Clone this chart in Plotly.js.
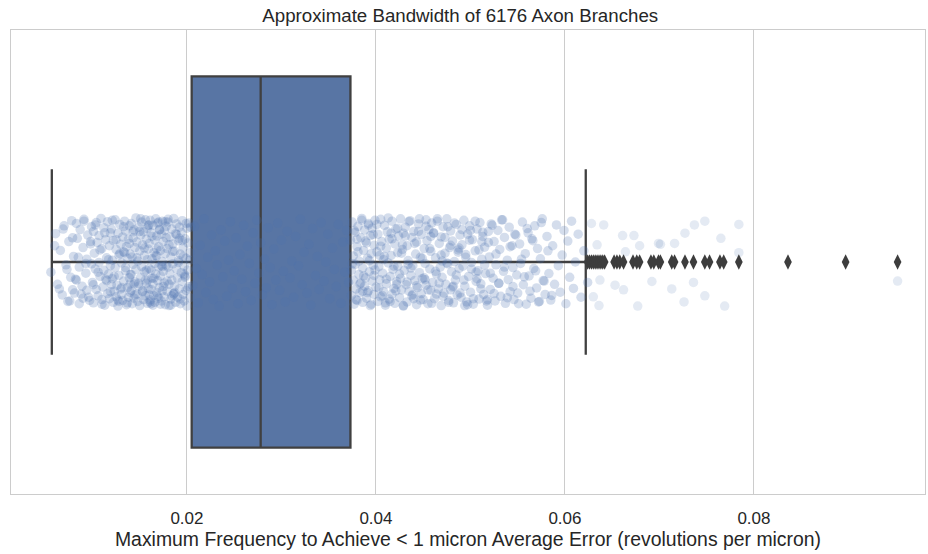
<!DOCTYPE html>
<html>
<head>
<meta charset="utf-8">
<script src="https://cdn.plot.ly/plotly-3.0.1.min.js"></script>
<style>html,body{margin:0;padding:0;background:#fff;}#chart{width:928px;height:554px;}</style>
</head>
<body>
<div id="chart"></div>
<script>
// ---- Box summary ----
const q1Val = [0.0205];
const medianVal = [0.0278];
const q3Val = [0.0373];
const lowWhisker = [0.0057];
const highWhisker = [0.0622];

// ---- Outliers (diamonds) ----
const outlierX = [0.0624,0.0626,0.0628,0.0630,0.0632,0.0634,0.0636,0.0638,0.0640,0.0642,
  0.0652,0.0655,0.0658,0.0662,0.0672,0.0676,0.0679,0.0691,0.0694,0.0699,0.0701,
  0.0713,0.0716,0.0727,0.0736,0.0748,0.0753,0.0764,0.0768,0.0784,0.0836,0.0897,0.0952];

// ---- Strip points: values and jitter offsets ----
const leftX = [0.0056,0.0061,0.0063,0.0066,0.0068,0.0070,0.0072,0.0074,0.0075,0.0077,0.0078,0.0079,
0.0080,0.0081,0.0083,0.0083,0.0084,0.0086,0.0086,0.0087,0.0089,0.0090,0.0090,0.0091,0.0093,0.0094,0.0094,0.0095,0.0097,0.0098,0.0099,0.0099,
0.0100,0.0101,0.0101,0.0102,0.0103,0.0104,0.0104,0.0105,0.0106,0.0107,0.0107,0.0108,0.0109,0.0110,0.0110,0.0111,0.0112,0.0112,0.0113,0.0114,0.0114,0.0115,0.0116,0.0116,0.0117,0.0118,0.0118,0.0119,0.0119,0.0120,
0.0120,0.0121,0.0121,0.0122,0.0122,0.0123,0.0124,0.0124,0.0125,0.0125,0.0126,0.0127,0.0127,0.0128,0.0128,0.0129,0.0130,0.0130,0.0131,0.0131,0.0132,0.0132,0.0133,0.0133,0.0134,0.0135,0.0135,0.0136,0.0136,0.0137,0.0137,0.0138,0.0138,0.0139,0.0139,0.0140,0.0140,0.0140,
0.0140,0.0141,0.0141,0.0142,0.0142,0.0143,0.0143,0.0144,0.0144,0.0145,0.0145,0.0146,0.0146,0.0147,0.0147,0.0148,0.0148,0.0149,0.0149,0.0150,0.0150,0.0151,0.0151,0.0152,0.0152,0.0153,0.0153,0.0154,0.0154,0.0155,0.0155,0.0156,0.0156,0.0157,0.0157,0.0158,0.0158,0.0158,0.0159,0.0159,0.0159,0.0160,0.0160,0.0160,
0.0160,0.0161,0.0161,0.0162,0.0162,0.0162,0.0163,0.0163,0.0164,0.0164,0.0164,0.0165,0.0165,0.0166,0.0166,0.0166,0.0167,0.0167,0.0168,0.0168,0.0168,0.0169,0.0169,0.0170,0.0170,0.0170,0.0171,0.0171,0.0172,0.0172,0.0172,0.0173,0.0173,0.0174,0.0174,0.0174,0.0175,0.0175,0.0176,0.0176,0.0176,0.0177,0.0177,0.0178,0.0178,0.0178,
0.0179,0.0179,0.0180,0.0180,0.0181,0.0181,0.0182,0.0182,0.0183,0.0183,0.0184,0.0184,0.0185,0.0185,0.0186,0.0186,0.0187,0.0187,0.0188,0.0188,0.0189,0.0189,0.0190,0.0190,0.0191,0.0191,0.0192,0.0192,0.0193,0.0193,0.0194,0.0194,0.0195,0.0195,0.0196,0.0196,0.0197,0.0197,0.0198,0.0198,0.0199,0.0199,0.0200,0.0200,0.0201,0.0201,0.0202,0.0202,0.0203,0.0203];
const leftY = [0.022,-0.061,0.048,-0.025,0.071,-0.078,0.006,0.085,-0.044,0.033,-0.089,0.060,
-0.012,0.067,-0.083,0.039,-0.051,0.090,0.011,-0.070,0.052,-0.031,0.078,-0.092,0.024,-0.006,0.061,-0.058,0.083,-0.039,0.004,-0.076,
0.044,-0.066,0.088,-0.019,0.015,-0.085,0.059,-0.042,0.073,0.001,-0.057,0.031,-0.094,0.081,-0.029,0.054,-0.074,0.018,0.093,-0.048,0.037,-0.009,0.068,-0.087,0.026,-0.035,0.079,-0.063,0.008,0.049,
-0.071,0.036,-0.004,0.087,-0.046,0.063,-0.091,0.012,0.075,-0.027,0.050,-0.062,0.095,-0.015,0.029,-0.081,0.058,-0.038,0.002,0.070,-0.054,0.083,-0.022,0.041,-0.088,0.019,-0.067,0.092,-0.033,0.055,-0.008,0.076,-0.049,0.034,-0.078,0.065,-0.017,0.047,
0.027,-0.083,0.061,-0.011,0.090,-0.052,0.005,-0.069,0.078,-0.031,0.043,-0.095,0.016,0.069,-0.043,0.085,-0.002,-0.075,0.052,-0.024,0.094,-0.058,0.033,-0.086,0.010,0.064,-0.037,0.081,-0.065,0.021,-0.014,0.073,-0.091,0.046,-0.049,0.089,-0.005,-0.072,0.038,0.057,-0.028,-0.080,0.014,0.071,
-0.040,0.082,-0.090,0.018,0.059,-0.063,0.035,-0.007,0.093,-0.079,0.047,-0.020,0.072,-0.047,0.003,0.087,-0.093,0.026,-0.056,0.066,-0.013,0.040,-0.084,0.078,-0.033,0.011,0.055,-0.070,0.091,-0.025,0.030,-0.060,0.084,-0.001,-0.088,0.062,-0.044,0.020,0.075,-0.068,0.045,-0.018,0.092,-0.052,0.007,-0.077,
0.063,-0.029,0.011,-0.086,0.048,0.094,-0.054,0.025,-0.011,0.080,-0.071,0.039,-0.039,0.004,0.068,-0.094,0.052,-0.023,0.087,-0.061,0.015,-0.082,0.034,0.076,-0.046,-0.003,0.058,-0.075,0.090,-0.017,0.023,-0.064,0.042,-0.089,0.070,-0.031,0.009,0.084,-0.050,0.030,-0.008,0.061,-0.073,0.095,-0.041,0.017,-0.084,0.053,-0.020,0.077];

const leftX2 = [0.0060,0.0065,0.0069,0.0073,0.0076,0.0079,0.0082,0.0085,0.0088,0.0091,
0.0093,0.0096,0.0098,0.0101,0.0103,0.0106,0.0108,0.0110,0.0113,0.0115,
0.0117,0.0119,0.0121,0.0123,0.0125,0.0127,0.0129,0.0131,0.0133,0.0135,
0.0137,0.0139,0.0141,0.0143,0.0145,0.0147,0.0149,0.0151,0.0153,0.0155,
0.0157,0.0159,0.0161,0.0163,0.0165,0.0167,0.0169,0.0171,0.0173,0.0175,
0.0177,0.0179,0.0181,0.0183,0.0185,0.0187,0.0189,0.0191,0.0193,0.0195,
0.0197,0.0199,0.0201,0.0203,0.0150,0.0156,0.0162,0.0168,0.0174,0.0180,
0.0186,0.0192,0.0198,0.0204,0.0128,0.0134,0.0144,0.0170,0.0184,0.0196];
const leftY2 = [-0.035,0.058,-0.071,0.016,0.084,-0.052,0.037,-0.010,0.069,-0.088,
0.003,0.076,-0.044,0.049,-0.080,0.022,-0.026,0.091,-0.063,0.040,
-0.005,0.064,-0.090,0.031,-0.048,0.082,-0.018,0.055,-0.076,0.012,
0.088,-0.040,0.027,-0.065,0.071,-0.009,0.046,-0.093,0.062,-0.030,
0.018,-0.079,0.086,-0.055,0.035,-0.014,0.074,-0.069,0.008,0.053,
-0.087,0.041,-0.037,0.093,-0.023,0.066,-0.059,0.001,0.080,-0.046,
0.026,-0.083,0.057,-0.004,-0.066,0.039,0.090,-0.028,0.010,-0.092,
0.069,-0.051,0.033,-0.075,0.085,-0.020,0.047,-0.086,0.073,-0.012];

const boxX = [0.0206,0.0208,0.0210,0.0212,0.0214,0.0216,0.0218,0.0220,0.0222,0.0224,
0.0226,0.0228,0.0230,0.0232,0.0234,0.0236,0.0238,0.0240,0.0242,0.0244,
0.0246,0.0248,0.0250,0.0252,0.0254,0.0256,0.0258,0.0260,0.0262,0.0264,
0.0266,0.0268,0.0270,0.0272,0.0274,0.0276,0.0278,0.0280,0.0282,0.0284,
0.0286,0.0288,0.0290,0.0292,0.0294,0.0296,0.0298,0.0300,0.0302,0.0304,
0.0306,0.0309,0.0311,0.0313,0.0315,0.0318,0.0320,0.0322,0.0324,0.0327,
0.0329,0.0331,0.0333,0.0336,0.0338,0.0340,0.0342,0.0345,0.0347,0.0349,
0.0351,0.0354,0.0356,0.0358,0.0360,0.0363,0.0365,0.0367,0.0369,0.0371];
const boxY = [0.051,-0.077,0.014,0.088,-0.036,0.027,-0.093,0.066,-0.010,0.043,
-0.058,0.081,-0.024,0.006,0.095,-0.069,0.032,-0.045,0.074,-0.004,
-0.087,0.057,0.019,-0.052,0.090,-0.016,0.037,-0.079,0.064,-0.034,
0.003,0.083,-0.063,0.046,-0.090,0.024,-0.041,0.071,-0.006,0.056,
-0.074,0.012,0.092,-0.028,0.039,-0.084,0.061,-0.047,0.020,0.086,
-0.066,0.034,-0.002,0.076,-0.055,0.008,-0.092,0.049,-0.021,0.067,
-0.038,0.093,-0.072,0.029,-0.012,0.059,-0.085,0.041,0.000,-0.060,
0.079,-0.030,0.016,0.053,-0.081,0.089,-0.043,0.022,-0.068,0.044];

const rightX = [0.0373,0.0374,0.0374,0.0375,0.0376,0.0376,0.0377,0.0378,0.0378,0.0379,0.0380,0.0380,0.0381,0.0382,0.0382,0.0383,0.0384,0.0384,0.0385,0.0386,0.0386,0.0387,0.0388,0.0388,0.0389,0.0390,0.0390,0.0391,0.0392,0.0392,0.0393,0.0394,0.0394,0.0395,0.0396,0.0396,0.0397,0.0398,0.0398,0.0399,
0.0400,0.0401,0.0402,0.0402,0.0403,0.0404,0.0405,0.0405,0.0406,0.0407,0.0408,0.0408,0.0409,0.0410,0.0411,0.0411,0.0412,0.0413,0.0414,0.0414,0.0415,0.0416,0.0417,0.0417,0.0418,0.0419,0.0420,0.0420,0.0421,0.0422,0.0423,0.0423,0.0424,0.0425,0.0426,0.0426,0.0427,0.0428,0.0429,0.0429,
0.0430,0.0431,0.0432,0.0433,0.0433,0.0434,0.0435,0.0436,0.0437,0.0438,0.0438,0.0439,0.0440,0.0441,0.0442,0.0443,0.0443,0.0444,0.0445,0.0446,0.0447,0.0448,0.0448,0.0449,0.0450,0.0451,0.0452,0.0453,0.0453,0.0454,0.0455,0.0456,0.0457,0.0458,0.0458,0.0459,
0.0460,0.0461,0.0462,0.0463,0.0464,0.0465,0.0466,0.0467,0.0468,0.0469,0.0469,0.0470,0.0471,0.0472,0.0473,0.0474,0.0475,0.0476,0.0477,0.0478,0.0479,0.0479,0.0480,0.0481,0.0482,0.0483,0.0484,0.0485,0.0486,0.0487,0.0488,0.0489,
0.0490,0.0491,0.0492,0.0493,0.0494,0.0495,0.0496,0.0497,0.0498,0.0499,0.0500,0.0501,0.0502,0.0503,0.0505,0.0506,0.0507,0.0508,0.0509,0.0510,0.0511,0.0512,0.0513,0.0514,0.0515,0.0516,0.0518,0.0519,
0.0520,0.0521,0.0522,0.0524,0.0525,0.0526,0.0527,0.0529,0.0530,0.0531,0.0532,0.0534,0.0535,0.0536,0.0537,0.0539,0.0540,0.0541,0.0542,0.0544,0.0545,0.0546,0.0547,0.0549,
0.0550,0.0552,0.0553,0.0555,0.0556,0.0558,0.0559,0.0561,0.0562,0.0564,0.0565,0.0567,0.0568,0.0570,0.0571,0.0573,0.0574,0.0576,0.0577,0.0579,
0.0581,0.0583,0.0585,0.0587,0.0589,0.0591,0.0593,0.0595,0.0597,0.0599,0.0601,0.0603,0.0605,0.0607,0.0609,0.0611,0.0614,0.0617,0.0620,0.0624];
const rightY = [-0.047,0.072,0.018,-0.086,0.039,-0.013,0.091,-0.064,0.005,0.058,-0.033,0.083,-0.077,0.027,-0.002,0.066,-0.052,0.045,-0.094,0.013,0.087,-0.025,0.052,-0.069,0.034,-0.041,0.078,-0.008,-0.083,0.062,0.021,-0.057,0.094,-0.018,0.041,-0.073,0.007,0.070,-0.036,-0.090,
0.054,-0.022,0.085,-0.060,0.010,0.038,-0.092,0.075,-0.044,0.024,-0.005,0.064,-0.079,0.093,-0.030,0.047,-0.065,0.002,0.080,-0.049,0.031,-0.014,0.069,-0.088,0.016,0.057,-0.039,0.089,-0.071,0.042,-0.020,0.009,-0.056,0.077,-0.093,0.035,0.060,-0.027,0.095,-0.062,
0.018,-0.075,0.049,-0.035,0.086,-0.003,0.063,-0.089,0.029,-0.053,0.073,0.008,-0.066,0.040,-0.017,0.092,-0.043,0.055,-0.082,0.023,-0.010,0.068,-0.059,0.036,0.081,-0.029,0.003,-0.091,0.050,-0.046,0.090,-0.070,0.015,0.061,-0.023,-0.084,
0.044,-0.063,0.079,-0.009,0.026,-0.088,0.058,-0.040,0.011,0.094,-0.054,0.033,-0.076,0.067,-0.019,0.048,-0.093,0.004,0.083,-0.031,0.060,-0.067,0.021,-0.045,0.088,-0.001,0.039,-0.081,0.071,-0.026,0.014,-0.058,
0.076,-0.037,0.009,-0.090,0.052,-0.016,0.086,-0.060,0.031,-0.078,0.065,0.001,-0.048,0.091,-0.024,0.042,-0.071,0.019,0.080,-0.085,0.047,-0.006,-0.055,0.070,-0.032,0.025,0.093,-0.066,
-0.011,0.059,-0.082,0.035,-0.044,0.084,0.006,-0.068,0.046,-0.027,0.074,-0.091,0.020,-0.053,0.089,-0.004,0.038,-0.075,0.064,-0.035,0.012,0.081,-0.060,0.028,
0.067,-0.039,0.003,-0.086,0.049,-0.018,0.091,-0.063,0.030,0.078,-0.050,0.014,-0.078,0.056,-0.029,0.085,-0.007,-0.093,0.040,0.070,
-0.055,0.025,0.082,-0.035,0.048,-0.080,0.008,0.065,-0.015,-0.068,0.090,-0.045,0.033,-0.088,0.057,0.000,-0.060,0.076,-0.024,0.044];

const rightX2 = [0.0375,0.0377,0.0379,0.0381,0.0383,0.0385,0.0387,0.0389,0.0391,0.0393,0.0395,0.0397,
0.0399,0.0401,0.0403,0.0405,0.0407,0.0409,0.0411,0.0413,0.0415,0.0417,0.0419,0.0421,
0.0423,0.0425,0.0427,0.0429,0.0431,0.0433,0.0435,0.0437,0.0439,0.0441,0.0443,0.0445,
0.0447,0.0449,0.0451,0.0453,0.0455,0.0457,0.0459,0.0461,0.0463,0.0465,0.0467,0.0469,
0.0471,0.0473,0.0475,0.0477,0.0479,0.0481,0.0483,0.0485,0.0487,0.0489,0.0491,0.0493,
0.0495,0.0497,0.0499,0.0501,0.0503,0.0505,0.0507,0.0509,0.0511,0.0513,0.0515,0.0517,
0.0519,0.0521,0.0523,0.0525,0.0527,0.0530,0.0533,0.0536,0.0539,0.0542,0.0545,0.0548,
0.0551,0.0554,0.0557,0.0560,0.0563,0.0566,0.0569,0.0572,0.0575,0.0578,0.0582,0.0586,
0.0380,0.0386,0.0392,0.0398,0.0404,0.0410,0.0416,0.0422,0.0428,0.0434,0.0440,0.0446,
0.0452,0.0458,0.0464,0.0470,0.0476,0.0482,0.0488,0.0494,0.0500,0.0506,0.0512,0.0518];
const rightY2 = [0.004,-0.068,0.081,-0.022,0.047,-0.090,0.030,-0.045,0.066,-0.003,0.091,-0.059,
0.017,-0.081,0.056,-0.034,0.073,-0.012,0.037,-0.095,0.085,-0.050,0.009,0.062,
-0.073,0.026,-0.019,0.094,-0.056,0.043,-0.087,0.013,0.070,-0.040,0.051,-0.066,
0.082,-0.008,0.034,-0.077,0.060,-0.029,0.089,-0.062,0.020,-0.093,0.045,-0.015,
0.074,-0.053,0.002,0.087,-0.036,0.054,-0.084,0.028,-0.021,0.067,-0.070,0.039,
-0.010,0.092,-0.047,0.015,0.079,-0.088,0.036,-0.026,0.058,-0.064,0.006,0.084,
-0.042,0.024,-0.079,0.068,-0.017,0.046,-0.091,0.011,0.077,-0.033,0.053,-0.058,
0.090,-0.006,0.032,-0.072,0.063,-0.046,0.019,0.086,-0.085,0.041,-0.024,0.072,
-0.049,0.063,-0.080,0.029,-0.014,0.088,-0.062,0.048,-0.037,0.005,0.079,-0.093,
0.038,-0.055,0.069,-0.002,-0.076,0.052,-0.030,0.094,-0.068,0.022,-0.044,0.081];

const tailX = [0.0628,0.0641,0.0634,0.0661,0.0673,0.0679,0.0699,0.0701,0.0716,0.0727,0.0737,0.0748,0.0765,0.0784,0.0784,0.0664,
  0.0653,0.0662,0.0692,0.0713,0.0736,0.0748,0.0726,0.0677,0.0769,0.0636,0.0630,0.0637,0.0952];
const tailY = [-0.083,-0.080,-0.037,-0.057,-0.057,-0.035,-0.040,-0.038,-0.040,-0.062,-0.080,-0.088,-0.051,-0.081,-0.020,-0.022,
  0.050,0.060,0.042,0.058,0.044,0.073,0.086,0.095,0.095,0.094,0.075,0.039,0.041];

function pair(xs, ys){ const n = Math.min(xs.length, ys.length); return [xs.slice(0,n), ys.slice(0,n)]; }
const groups = [pair(leftX, leftY), pair(leftX2, leftY2), pair(boxX, boxY), pair(rightX, rightY), pair(rightX2, rightY2)];
const stripX = [].concat(...groups.map(g => g[0]));
const stripY = [].concat(...groups.map(g => g[1]));
const [tx, ty] = pair(tailX, tailY);

const FONT = 'Liberation Sans, Arial, sans-serif';
const TEXT = '#262626';
const BOX_LINE = '#404040';

const traces = [
  {
    type: 'box', orientation: 'h', y: [0],
    q1: q1Val, median: medianVal, q3: q3Val,
    lowerfence: lowWhisker, upperfence: highWhisker,
    width: 0.8, whiskerwidth: 0.5,
    fillcolor: '#5875a4',
    line: {color: BOX_LINE, width: 2.3},
    boxpoints: false, hoverinfo: 'skip'
  },
  {
    type: 'scatter', mode: 'markers', x: stripX, y: stripY,
    marker: {size: 9.5, color: 'rgba(76,114,176,0.24)', line: {width: 0}},
    hoverinfo: 'skip'
  },
  {
    type: 'scatter', mode: 'markers', x: tx, y: ty,
    marker: {size: 9.5, color: 'rgba(76,114,176,0.15)', line: {width: 0}},
    hoverinfo: 'skip'
  },
  {
    type: 'scatter', mode: 'markers', x: outlierX, y: outlierX.map(() => 0),
    marker: {symbol: 'diamond-tall', size: 11, color: '#3d3d3d', line: {width: 0}},
    hoverinfo: 'skip'
  }
];

const layout = {
  width: 928, height: 554,
  margin: {l: 11, r: 3, t: 30, b: 60},
  paper_bgcolor: '#ffffff', plot_bgcolor: '#ffffff',
  showlegend: false,
  font: {family: FONT, color: TEXT},
  title: {
    text: 'Approximate Bandwidth of 6176 Axon Branches',
    font: {family: FONT, size: 18.7, color: TEXT},
    x: 0.4915, xref: 'paper', xanchor: 'center', y: 0.973, yref: 'container', yanchor: 'middle'
  },
  xaxis: {
    range: [0.00138, 0.0981],
    tickvals: [0.02, 0.04, 0.06, 0.08],
    ticktext: ['0.02', '0.04', '0.06', '0.08'],
    ticks: '', showgrid: true, gridcolor: '#cccccc', gridwidth: 1,
    zeroline: false, showline: true, mirror: true, linecolor: '#cccccc', linewidth: 1.3,
    tickfont: {family: FONT, size: 17, color: TEXT},
    ticklabelstandoff: 8,
    title: {text: 'Maximum Frequency to Achieve < 1 micron Average Error (revolutions per micron)',
            font: {family: FONT, size: 19.4, color: TEXT}, standoff: 5},
    automargin: false
  },
  yaxis: {
    range: [0.5, -0.5], showticklabels: false, ticks: '', showgrid: false,
    zeroline: false, showline: true, mirror: true, linecolor: '#cccccc', linewidth: 1.3,
    automargin: false
  }
};

Plotly.newPlot('chart', traces, layout, {displayModeBar: false, staticPlot: true});
</script>
</body>
</html>
